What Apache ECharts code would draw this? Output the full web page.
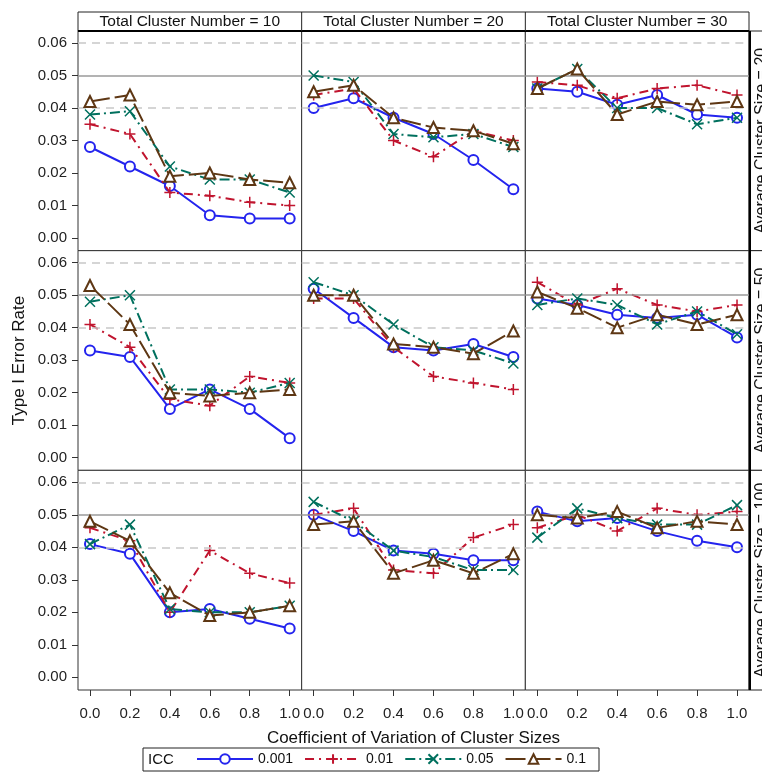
<!DOCTYPE html>
<html>
<head>
<meta charset="utf-8">
<script src="https://cdn.jsdelivr.net/npm/echarts@6/dist/echarts.min.js"></script>
<style>
  html, body { margin: 0; background: #fff; }
  #chart { width: 762px; height: 772px; }
</style>
</head>
<body>
<div id="chart"></div>
<script>
const cvLevels = [0, 0.2, 0.4, 0.6, 0.8, 1.0];
const clusterNumbers = [10, 20, 30];      // columns
const clusterSizes = [20, 50, 100];       // rows
const iccNames = ["0.001", "0.01", "0.05", "0.1"];
const yTicks = [0, 0.01, 0.02, 0.03, 0.04, 0.05, 0.06];
const refLines = [0.044, 0.05, 0.056];

// [row = cluster size][col = cluster number][cv]
const icc001 = [
  [[0.028, 0.022, 0.016, 0.007, 0.006, 0.006], [0.040, 0.043, 0.037, 0.032, 0.024, 0.015], [0.046, 0.045, 0.041, 0.044, 0.038, 0.037]],
  [[0.033, 0.031, 0.015, 0.021, 0.015, 0.006], [0.052, 0.043, 0.034, 0.033, 0.035, 0.031], [0.049, 0.047, 0.044, 0.043, 0.044, 0.037]],
  [[0.041, 0.038, 0.020, 0.021, 0.018, 0.015], [0.050, 0.045, 0.039, 0.038, 0.036, 0.036], [0.051, 0.048, 0.049, 0.045, 0.042, 0.040]]
];
const icc01 = [
  [[0.035, 0.032, 0.014, 0.013, 0.011, 0.010], [0.044, 0.046, 0.030, 0.025, 0.033, 0.030], [0.048, 0.047, 0.043, 0.046, 0.047, 0.044]],
  [[0.041, 0.034, 0.018, 0.016, 0.025, 0.023], [0.049, 0.049, 0.034, 0.025, 0.023, 0.021], [0.054, 0.047, 0.052, 0.047, 0.045, 0.047]],
  [[0.046, 0.042, 0.020, 0.039, 0.032, 0.029], [0.050, 0.052, 0.033, 0.032, 0.043, 0.047], [0.046, 0.050, 0.045, 0.052, 0.050, 0.051]]
];
const icc05 = [
  [[0.038, 0.039, 0.022, 0.018, 0.018, 0.014], [0.050, 0.048, 0.032, 0.031, 0.032, 0.028], [0.046, 0.052, 0.040, 0.040, 0.035, 0.037]],
  [[0.048, 0.050, 0.021, 0.021, 0.020, 0.023], [0.054, 0.050, 0.041, 0.034, 0.033, 0.029], [0.047, 0.049, 0.047, 0.041, 0.045, 0.038]],
  [[0.041, 0.047, 0.021, 0.020, 0.020, 0.022], [0.054, 0.048, 0.039, 0.037, 0.033, 0.033], [0.043, 0.052, 0.049, 0.047, 0.047, 0.053]]
];
const icc1 = [
  [[0.042, 0.044, 0.019, 0.020, 0.018, 0.017], [0.045, 0.047, 0.037, 0.034, 0.033, 0.029], [0.046, 0.052, 0.038, 0.042, 0.041, 0.042]],
  [[0.053, 0.041, 0.020, 0.019, 0.020, 0.021], [0.050, 0.050, 0.035, 0.034, 0.032, 0.039], [0.051, 0.046, 0.040, 0.044, 0.041, 0.044]],
  [[0.048, 0.042, 0.026, 0.019, 0.020, 0.022], [0.047, 0.048, 0.032, 0.036, 0.032, 0.038], [0.050, 0.049, 0.051, 0.046, 0.048, 0.047]]
];

const FONT = "Liberation Sans";
const iccData = [icc001, icc01, icc05, icc1];
const styles = [
  { color: "#2424ee", symbol: "emptyCircle", size: 10, dash: "solid" },
  { color: "#c0142e", symbol: "path://M5,0 L5,10 M0,5 L10,5", size: 11, dash: [9, 5, 2, 5] },
  { color: "#00705e", symbol: "path://M0,0 L10,10 M10,0 L0,10", size: 10, dash: [10, 4, 2, 4] },
  { color: "#5e3714", symbol: "emptyTriangle", size: 11, dash: [20, 5] }
];

const plotLeft = 78, plotRight = 749, plotTop = 31, plotBottom = 690;
const colW = (plotRight - plotLeft) / 3;
const rowH = (plotBottom - plotTop) / 3;

const grids = [], xAxes = [], yAxes = [], series = [];
const graphics = [];

for (let r = 0; r < 3; r++) {
  for (let c = 0; c < 3; c++) {
    const g = r * 3 + c;
    grids.push({
      left: plotLeft + c * colW, top: plotTop + r * rowH,
      width: colW, height: rowH,
      show: true, borderColor: "#333", borderWidth: 1, backgroundColor: "#fff"
    });
    xAxes.push({
      gridIndex: g, type: "value", min: -0.06, max: 1.06, position: "bottom",
      axisLine: { show: false, onZero: false }, splitLine: { show: false },
      axisTick: { show: r === 2, length: 6, lineStyle: { color: "#333" }, customValues: cvLevels },
      axisLabel: {
        show: r === 2, customValues: cvLevels, margin: 16,
        color: "#222", fontSize: 15, fontFamily: FONT,
        formatter: v => v.toFixed(1)
      },
      name: r === 2 && c === 1 ? "Coefficient of Variation of Cluster Sizes" : "",
      nameLocation: "middle", nameGap: 40,
      nameTextStyle: { color: "#111", fontSize: 17, fontFamily: FONT }
    });
    yAxes.push({
      gridIndex: g, type: "value", min: -0.0039, max: 0.0637, position: "left",
      axisLine: { show: false, onZero: false }, splitLine: { show: false },
      axisTick: { show: c === 0, length: 6, lineStyle: { color: "#333" }, customValues: yTicks },
      axisLabel: {
        show: c === 0, customValues: yTicks, margin: 11,
        color: "#222", fontSize: 15, fontFamily: FONT,
        formatter: v => v.toFixed(2)
      },
      name: c === 0 && r === 1 ? "Type I Error Rate" : "",
      nameLocation: "middle", nameGap: 50,
      nameTextStyle: { color: "#111", fontSize: 17, fontFamily: FONT }
    });

    // reference lines
    series.push({
      type: "line", xAxisIndex: g, yAxisIndex: g, data: [], z: 1, silent: true,
      markLine: {
        silent: true, symbol: "none", label: { show: false }, animation: false,
        data: refLines.map(v => ({
          yAxis: v,
          lineStyle: v === 0.05
            ? { color: "#9a9a9a", width: 1.5, type: "solid" }
            : { color: "#c8c8c8", width: 1.5, type: [8, 6] }
        }))
      }
    });

    iccData.forEach((arr, k) => {
      const s = styles[k];
      series.push({
        name: iccNames[k], type: "line", xAxisIndex: g, yAxisIndex: g, z: 3 + k,
        data: cvLevels.map((x, i) => [x, arr[r][c][i]]),
        symbol: s.symbol, symbolSize: s.size, showAllSymbol: true,
        lineStyle: { color: s.color, width: 2, type: s.dash },
        itemStyle: { color: s.color, borderColor: s.color, borderWidth: 1.5 },
        emphasis: { disabled: true }, animation: false
      });
    });
  }
}

// header strip (columns)
graphics.push({
  type: "rect", shape: { x: plotLeft, y: 12, width: plotRight - plotLeft, height: plotTop - 12 },
  style: { fill: "#fff", stroke: "#222", lineWidth: 1 }
});
graphics.push({
  type: "line", shape: { x1: plotLeft, y1: plotTop, x2: plotRight, y2: plotTop },
  style: { stroke: "#000", lineWidth: 2 }
});
clusterNumbers.forEach((n, c) => {
  if (c > 0) graphics.push({
    type: "line", shape: { x1: plotLeft + c * colW, y1: 12, x2: plotLeft + c * colW, y2: plotTop },
    style: { stroke: "#222", lineWidth: 1 }
  });
  graphics.push({
    type: "text", x: plotLeft + c * colW + colW / 2, y: 22,
    style: { text: "Total Cluster Number = " + n, fill: "#111", font: "15.5px " + FONT, align: "center", verticalAlign: "middle" }
  });
});

// row strip (right side)
clusterSizes.forEach((n, r) => {
  const y0 = plotTop + r * rowH;
  graphics.push({
    type: "rect", shape: { x: plotRight, y: y0, width: 30, height: rowH },
    style: { fill: "#fff", stroke: "#222", lineWidth: 1 }
  });
  graphics.push({
    type: "text", x: 762, y: y0 + rowH / 2, rotation: Math.PI / 2,
    style: { text: "Average Cluster Size = " + n, fill: "#111", font: "16px " + FONT, align: "center", verticalAlign: "middle" }
  });
});
graphics.push({
  type: "line", shape: { x1: plotRight + 1, y1: plotTop, x2: plotRight + 1, y2: plotBottom },
  style: { stroke: "#000", lineWidth: 2 }
});

// legend box
graphics.push({
  type: "rect", shape: { x: 143, y: 748, width: 456, height: 23 },
  style: { fill: "none", stroke: "#222", lineWidth: 1 }
});
graphics.push({
  type: "text", x: 148, y: 760,
  style: { text: "ICC", fill: "#111", font: "15px " + FONT, verticalAlign: "middle" }
});

const chart = echarts.init(document.getElementById("chart"));
chart.setOption({
  backgroundColor: "#fff",
  animation: false,
  grid: grids,
  xAxis: xAxes,
  yAxis: yAxes,
  series: series,
  legend: {
    data: iccNames, left: 196, top: 752, itemWidth: 56, itemHeight: 12, itemGap: 11,
    selectedMode: false, padding: 0,
    textStyle: { color: "#111", fontSize: 14, fontFamily: FONT }
  },
  graphic: graphics
});
window.addEventListener("resize", function () {
  chart.resize();
});
</script>
</body>
</html>
